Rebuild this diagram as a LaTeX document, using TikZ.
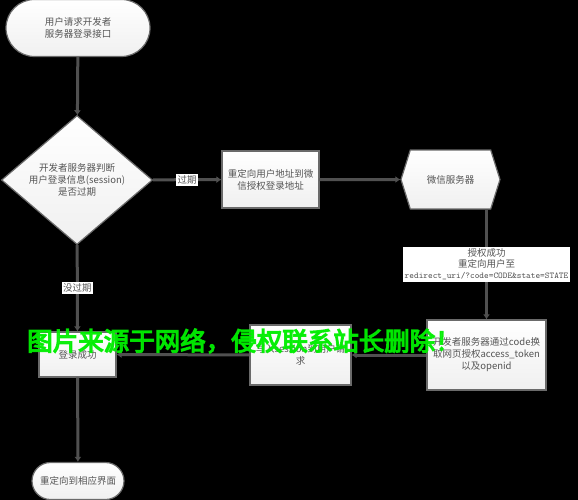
\documentclass[tikz,border=0pt]{standalone}
\usepackage{fontspec}
\newfontfamily\cjk{Noto Sans CJK SC}
\newfontfamily\markfont[FakeBold=5]{Noto Sans CJK SC}
\usetikzlibrary{shapes.geometric}
\usetikzlibrary{shapes.misc}
\usetikzlibrary{shapes.symbols}
\usetikzlibrary{positioning}
\usetikzlibrary{arrows.meta}

\definecolor{linegray}{HTML}{505050}
\definecolor{boxgray}{HTML}{6A6A6A}
\definecolor{txtgray}{HTML}{555555}
\definecolor{markgreen}{HTML}{00EE00}

\begin{document}
\begin{tikzpicture}[x = 1pt, y = -1pt, line width = 1pt,
    box/.style = {draw = boxgray, line width = 1.2pt, top color = white, bottom color = gray!12,
                  text = txtgray, font = \cjk\fontsize{9.5}{12}\selectfont, align = center, inner sep = 0pt},
    term/.style = {box, rounded rectangle},
    proc/.style = {box, rectangle},
    decide/.style = {box, diamond},
    server/.style = {box, signal, signal to = west and east, signal pointer angle = 145},
    flow/.style = {draw = linegray, line width = 3pt, -{Latex[length = 5pt, width = 7pt]}},
    tag/.style = {fill = white, text = txtgray, font = \cjk\fontsize{9.5}{11}\selectfont, inner sep = 1.5pt, align = center}]

    \path[use as bounding box, fill = black] (0,0) rectangle (578,500);

    % flow nodes
    \node (start) at (78,28) [term, minimum width = 144, minimum height = 57] {用户请求开发者\\服务器登录接口};
    \node (check) at (77,180) [decide, minimum width = 151, minimum height = 94] {开发者服务器判断\\用户登录信息(session)\\是否过期};
    \node (redirect) at (270.5,179.5) [proc, minimum width = 97, minimum height = 57] {重定向用户地址到微\\信授权登录地址};
    \node (wechat) at (450.5,179.5) [server, minimum width = 99, minimum height = 59] {微信服务器};
    \node (token) at (486.5,355) [proc, minimum width = 119, minimum height = 70] {开发者服务器通过code换\\取网页授权access\_token\\以及openid};
    \node (session) at (300.5,355) [proc, minimum width = 101, minimum height = 60] {写入session到用户请\\求};
    \node (success) at (77.5,354.5) [proc, minimum width = 77, minimum height = 45] {登录成功};
    \node (finish) at (78,481) [term, minimum width = 92, minimum height = 37] {重定向到相应界面};

    % connectors
    \draw[flow] (start) -- (check);
    \draw[flow] (check) -- (redirect) node [tag, midway] {过期};
    \draw[flow] (redirect) -- (wechat);
    \draw[flow] (wechat.south -| token.north) -- (token) node [tag, midway] {授权成功\\重定向用户至\\{\ttfamily\fontsize{8.9}{11}\selectfont redirect\_uri/?code=CODE\&state=STATE}};
    \draw[flow] (token) -- (session);
    \draw[flow] (session) -- (success);
    \draw[flow] (check) -- (success) node [tag, midway] {没过期};
    \draw[flow] (success) -- (finish);

    % watermark
    \node (mark) at (244,341) [text = markgreen, text opacity = 0.9, font = \markfont\fontsize{25.5}{25}\selectfont] {图片来源于网络，侵权联系站长删除！};

\end{tikzpicture}
\end{document}
